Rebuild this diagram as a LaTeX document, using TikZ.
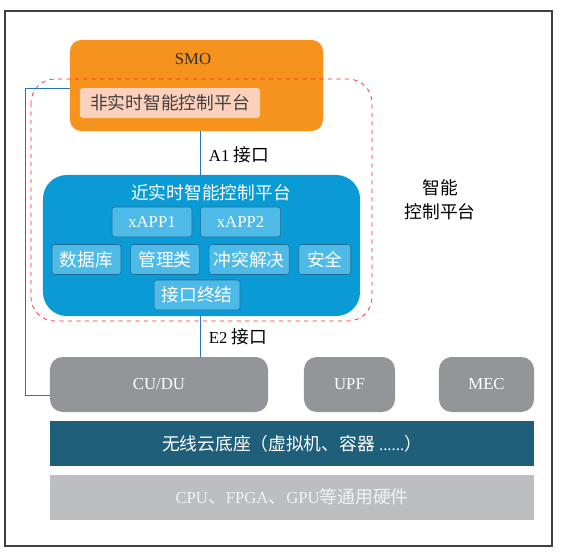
\documentclass[tikz,border=0pt]{standalone}
\usepackage{fontspec}
\setmainfont{Liberation Serif}
\newfontfamily\cjk[Scale=1.06]{Noto Sans CJK SC}
\usetikzlibrary{positioning}
\usepackage{xcolor}
\definecolor{smoorange}{RGB}{246,146,30}
\definecolor{smopink}{RGB}{251,208,188}
\definecolor{ricblue}{RGB}{10,155,214}
\definecolor{appblue}{RGB}{78,186,232}
\definecolor{appedge}{RGB}{32,108,146}
\definecolor{nodegray}{RGB}{147,149,152}
\definecolor{cloudteal}{RGB}{31,95,122}
\definecolor{hwgray}{RGB}{188,190,192}
\definecolor{linkblue}{RGB}{40,115,185}
\tikzset{
  every node/.style={
    font=\fontsize{11.9}{14}\selectfont
  },
  smobox/.style={
    rectangle,
    fill=smoorange,
    rounded corners=8pt,
    minimum width=6.325cm,
    minimum height=2.275cm
  },
  nrtbox/.style={
    rectangle,
    fill=smopink,
    rounded corners=2pt,
    minimum width=4.5cm,
    minimum height=0.75cm,
    text=black!75
  },
  ricbox/.style={
    rectangle,
    fill=ricblue,
    rounded corners=17pt,
    minimum width=7.925cm,
    minimum height=3.525cm
  },
  appbox/.style={
    rectangle,
    draw=appedge,
    fill=appblue,
    rounded corners=2pt,
    minimum height=0.75cm,
    inner sep=1pt,
    text=white
  },
  nfbox/.style={
    rectangle,
    fill=nodegray,
    rounded corners=9pt,
    minimum height=1.375cm,
    text=white
  },
  layerbox/.style={
    rectangle,
    minimum width=12.1cm,
    minimum height=1.125cm
  },
  iflabel/.style={
    anchor=west
  },
  link/.style={
    draw=linkblue,
    line width=0.6pt
  }
}

\begin{document}
\begin{tikzpicture}[x=0.025cm, y=-0.025cm]
    \useasboundingbox (0,0) rectangle (563,555);
    \draw[black!75, line width=0.9pt] (5,11) rectangle (552,546);

    % SMO with the non-RT platform
    \node (smo) [smobox] at (196.5,85.5) {};
    \node (smotxt) [text=black!80] at (193,59) {SMO};
    \node (nonrt) [nrtbox] at (170,103) {\cjk 非实时智能控制平台};

    % near-RT platform
    \node (ric) [ricbox] at (201.5,245.5) {};
    \node (rictxt) [text=white] at (211,193) {\cjk 近实时智能控制平台};
    \node (xapp1) [appbox, minimum width=2cm] at (152,222) {xAPP1};
    \node (xapp2) [appbox, minimum width=2cm, right=0.2cm of xapp1] {xAPP2};
    \node (db) [appbox, minimum width=1.725cm] at (86.5,259.5) {\cjk 数据库};
    \node (mgmt) [appbox, minimum width=1.725cm, right=0.225cm of db] {\cjk 管理类};
    \node (conflict) [appbox, minimum width=2cm, right=0.225cm of mgmt] {\cjk 冲突解决};
    \node (sec) [appbox, minimum width=1.3cm, right=0.225cm of conflict] {\cjk 安全};
    \node (term) [appbox, minimum width=2.15cm] at (197,295) {\cjk 接口终结};

    % scope of the intelligent control platform
    \draw[red!85, dashed, rounded corners=17pt, line width=0.5pt] (31,79) rectangle (372,321);
    \node (scope) [align=center, font=\fontsize{11.9}{17}\selectfont] at (440,200) {\cjk 智能\\\cjk 控制平台};

    % network functions and layers
    \node (cudu) [nfbox, minimum width=5.45cm] at (159,384.5) {CU/DU};
    \node (upf) [nfbox, minimum width=2.275cm] at (349.5,384.5) {UPF};
    \node (mec) [nfbox, minimum width=2.375cm] at (486.5,384.5) {MEC};
    \node (cloud) [layerbox, fill=cloudteal, text=white] at (292,443.5) {{\cjk 无线云底座（虚拟机、容器} ......{\cjk ）}};
    \node (hw) [layerbox, fill=hwgray, text=black!5, below=0.2cm of cloud] {CPU{\cjk 、}FPGA{\cjk 、}GPU{\cjk 等通用硬件}};

    % interfaces
    \coordinate (a1top) at (200,131);
    \coordinate (a1bot) at (200,175);
    \coordinate (e2top) at (200,316);
    \coordinate (e2bot) at (200,357);
    \draw[link] (a1top) -- (a1bot);
    \draw[link] (e2top) -- (e2bot);
    \node (a1) [iflabel] at (204,155) {A1 {\cjk 接口}};
    \node (e2) [iflabel] at (204,337) {E2 {\cjk 接口}};
    \draw[link] (smo.west |- 0,88) -| (25,395) -- (cudu.west |- 0,395);
\end{tikzpicture}
\end{document}
